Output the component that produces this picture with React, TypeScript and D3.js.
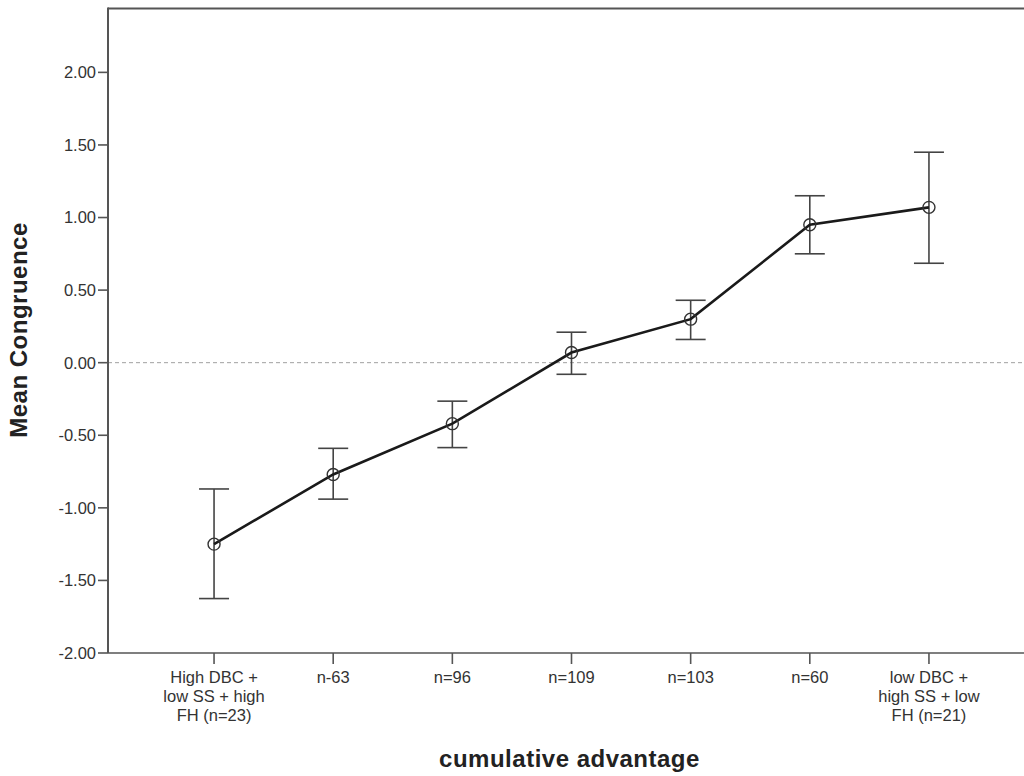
import React from "react";
import * as d3 from "d3";

const categories: string[][] = [
  ["High DBC +", "low SS + high", "FH (n=23)"],
  ["n-63"],
  ["n=96"],
  ["n=109"],
  ["n=103"],
  ["n=60"],
  ["low DBC +", "high SS + low", "FH (n=21)"],
];
const means = [-1.25, -0.77, -0.42, 0.07, 0.3, 0.95, 1.07];
const upper = [-0.87, -0.59, -0.265, 0.21, 0.43, 1.15, 1.45];
const lower = [-1.625, -0.94, -0.585, -0.08, 0.16, 0.75, 0.685];
const yTicks = [-2, -1.5, -1, -0.5, 0, 0.5, 1, 1.5, 2];
const yLabel = "Mean Congruence";
const xLabel = "cumulative advantage";

const W = 1024;
const H = 776;
const left = 108;
const right = 1035;
const top = 8.5;
const bottom = 653;

export default function App() {
  const ids = categories.map((_, i) => String(i));
  const x = d3.scalePoint<string>().domain(ids).range([left, right]).padding(0.89);
  const y = d3.scaleLinear().domain([-2, 2.44]).range([bottom, top]);
  const line = d3
    .line<number>()
    .x((_, i) => x(ids[i]) as number)
    .y((d) => y(d));
  const font = "'Liberation Sans', Arial, sans-serif";
  const axisColor = "#555";
  const capHalf = 15;
  return (
    <svg
      width={W}
      height={H}
      style={{ position: "absolute", left: 0, top: 0, background: "#fff" }}
      fontFamily={font}
    >
      <rect x={0} y={0} width={W} height={H} fill="#fff" />
      <line
        x1={left}
        x2={right}
        y1={y(0)}
        y2={y(0)}
        stroke="#a0a0a0"
        strokeWidth={1}
        strokeDasharray="4,3"
      />
      <line x1={left} x2={right} y1={top} y2={top} stroke={axisColor} strokeWidth={2} />
      <line x1={left} x2={left} y1={top - 1} y2={bottom} stroke={axisColor} strokeWidth={2} />
      <line x1={left} x2={right} y1={bottom} y2={bottom} stroke={axisColor} strokeWidth={1.6} />
      {yTicks.map((t) => (
        <g key={t}>
          <line x1={left - 10} x2={left} y1={y(t)} y2={y(t)} stroke={axisColor} strokeWidth={1.6} />
          <text
            x={left - 12}
            y={y(t)}
            dy="0.36em"
            textAnchor="end"
            fontSize={16.5}
            fill="#333"
          >
            {t.toFixed(2)}
          </text>
        </g>
      ))}
      {categories.map((lines, i) => {
        const cx = x(ids[i]) as number;
        return (
          <g key={i}>
            <line x1={cx} x2={cx} y1={bottom} y2={bottom + 11} stroke={axisColor} strokeWidth={1.6} />
            {lines.map((l, j) => (
              <text
                key={j}
                x={cx}
                y={bottom + 30 + j * 19}
                textAnchor="middle"
                fontSize={16.5}
                fill="#333"
              >
                {l}
              </text>
            ))}
          </g>
        );
      })}
      {means.map((_, i) => {
        const cx = x(ids[i]) as number;
        return (
          <g key={i} stroke="#444" strokeWidth={1.6}>
            <line x1={cx} x2={cx} y1={y(upper[i])} y2={y(lower[i])} />
            <line x1={cx - capHalf} x2={cx + capHalf} y1={y(upper[i])} y2={y(upper[i])} />
            <line x1={cx - capHalf} x2={cx + capHalf} y1={y(lower[i])} y2={y(lower[i])} />
          </g>
        );
      })}
      <path d={line(means) || ""} fill="none" stroke="#1a1a1a" strokeWidth={2.6} />
      {means.map((m, i) => (
        <circle
          key={i}
          cx={x(ids[i]) as number}
          cy={y(m)}
          r={6}
          fill="none"
          stroke="#333"
          strokeWidth={1.4}
        />
      ))}
      <text
        x={(left + right) / 2 - 2}
        y={767}
        textAnchor="middle"
        fontSize={24}
        fontWeight="bold"
        letterSpacing={0.5}
        fill="#222"
      >
        {xLabel}
      </text>
      <text
        transform={`translate(27, 330) rotate(-90)`}
        textAnchor="middle"
        fontSize={24}
        fontWeight="bold"
        letterSpacing={0.5}
        fill="#222"
      >
        {yLabel}
      </text>
    </svg>
  );
}
